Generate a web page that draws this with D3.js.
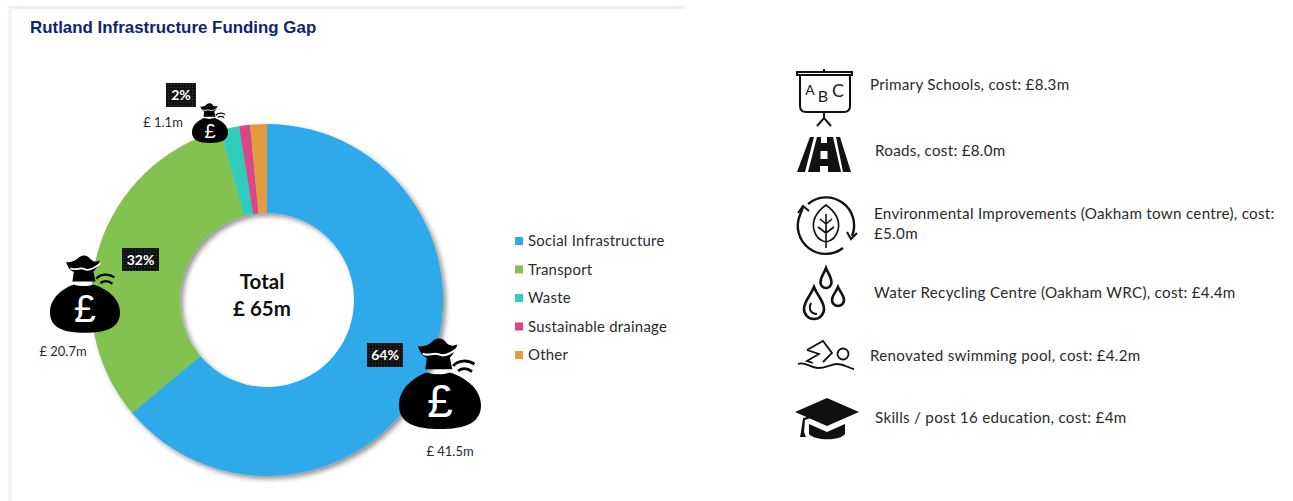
<!DOCTYPE html>
<html><head><meta charset="utf-8">
<script src="https://cdn.jsdelivr.net/npm/d3@7"></script>
<style>
html,body{margin:0;padding:0;background:#fff;overflow:hidden}
text{font-family:Lato,"Open Sans",sans-serif;fill:#2a2a2a}
</style></head><body>
<svg id="c" width="1293" height="501"></svg>
<script>
const chartTitle = "Rutland Infrastructure Funding Gap";
const categories = ["Social Infrastructure","Transport","Waste","Sustainable drainage","Other"];
const values = [41.5,20.7,1.1,0.65,1.0];
const colors = ["#2fa9ea","#82c251","#2dcdbb","#d8478a","#e39c3c"];
const centerLines = ["Total","£ 65m"];
const percentLabels = ["64%","32%","2%"];
const moneyLabels = ["£ 41.5m","£ 20.7m","£ 1.1m"];
const projects = [["Primary Schools, cost: £8.3m"],["Roads, cost: £8.0m"],
 ["Environmental Improvements (Oakham town centre), cost:","£5.0m"],
 ["Water Recycling Centre (Oakham WRC), cost: £4.4m"],["Renovated swimming pool, cost: £4.2m"],
 ["Skills / post 16 education, cost: £4m"]];

const svg = d3.select("#c");
const defs = svg.append("defs");
const f = defs.append("filter").attr("id","sh").attr("x","-10%").attr("y","-10%").attr("width","125%").attr("height","125%");
f.append("feDropShadow").attr("dx",3).attr("dy",3).attr("stdDeviation",2.5).attr("flood-color","#000").attr("flood-opacity",.42);
const pat = defs.append("pattern").attr("id","dots").attr("width",3).attr("height",3).attr("patternUnits","userSpaceOnUse");
pat.append("rect").attr("width",3).attr("height",3).attr("fill","#111");
pat.append("rect").attr("width",1).attr("height",1).attr("fill","#3a3a3a");

// panel frame
svg.append("rect").attr("x",8).attr("y",6).attr("width",677).attr("height",3).attr("fill","#eef3fb");
svg.append("rect").attr("x",8).attr("y",6).attr("width",4).attr("height",495).attr("fill","#eef3fb");

svg.append("text").attr("x",30).attr("y",33).text(chartTitle)
 .style("font-family","'Liberation Sans',Arial,sans-serif").style("font-weight",700).style("font-size","16.9px").style("fill","#10256b");

// donut
const cx=267, cy=300, R=176, r=87;
const pie=d3.pie().sort(null).value(d=>d);
const arc=d3.arc().innerRadius(r).outerRadius(R);
const g=svg.append("g").attr("transform",`translate(${cx},${cy})`).attr("filter","url(#sh)");
g.selectAll("path").data(pie(values)).join("path").attr("d",arc).attr("fill",(d,i)=>colors[i]);

const tc=svg.append("g");
tc.selectAll("text").data(centerLines).join("text").attr("x",262).attr("y",(d,i)=>289+i*27)
 .attr("text-anchor","middle").style("font-size","20.5px").style("font-weight",700).style("fill","#111").text(d=>d);

// money bags: x,y = top-left, s = scale (unit box 100 wide, 111 tall)
function bag(x,y,k){
 const b=svg.append("g").attr("transform",`translate(${x},${y}) scale(${k})`);
 b.append("path").attr("fill","#000").attr("d","M23,10 C30,11 36,9 42,3 C47,-1 54,0 58,6 C62,10 66,10 71,8 C70,14 66,20 62,24 L65,38 L32,38 L34,24 C28,22 25,16 23,10Z");
 b.append("path").attr("fill","#000").attr("d","M34,42 C20,47 0,60 0,82 C0,104 20,111 50,111 C80,111 100,104 100,82 C100,60 78,47 62,42 C54,45 42,45 34,42Z");
 b.append("path").attr("fill","none").attr("stroke","#000").attr("stroke-width",3.4).attr("d","M66,34 C72,27 84,26 92,32 M72,40 C78,36 84,37 89,41");
 b.append("path").attr("fill","none").attr("stroke","#fff").attr("stroke-width",2.6).attr("d","M29,19 C36,23 42,17 49,20 C54,23 62,20 72,12");
 b.append("text").attr("x",50).attr("y",96).attr("text-anchor","middle").style("font-size","56px").style("font-family","'Liberation Sans',sans-serif").style("fill","#fff").text("£");
}
bag(399,338,.82); bag(50,255,.70); bag(192,103,.36);

const pctPos=[[367,343,36,24],[122,248,37,23],[166,83,30,24]];
percentLabels.forEach((t,i)=>{const [x,y,w,h]=pctPos[i];
 svg.append("rect").attr("x",x).attr("y",y).attr("width",w).attr("height",h).attr("fill","url(#dots)");
 svg.append("text").attr("x",x+w/2).attr("y",y+h/2+5).attr("text-anchor","middle").style("font-size","14px").style("font-weight",700).style("fill","#fff").text(t);
});
const monPos=[[450,456],[63,356],[163,127]];
moneyLabels.forEach((t,i)=>svg.append("text").attr("x",monPos[i][0]).attr("y",monPos[i][1]).attr("text-anchor","middle").style("font-size","13px").text(t));

// legend
const ly=d3.scalePoint().domain(categories).range([241,355]);
const lg=svg.append("g");
lg.selectAll("rect").data(categories).join("rect").attr("x",515).attr("y",d=>ly(d)-4).attr("width",8).attr("height",8).attr("fill",(d,i)=>colors[i]);
lg.selectAll("text").data(categories).join("text").attr("x",528).attr("y",d=>ly(d)+5).style("font-size","14.9px").style("letter-spacing",".25px").text(d=>d);

// project list
const txtX=[870,875,874,874,870,875], txtY=[90,156,219,298,361,423];
projects.forEach((ls,i)=>ls.forEach((t,j)=>svg.append("text").attr("x",txtX[i]).attr("y",txtY[i]+j*19.5).style("font-size","15.2px").style("letter-spacing",".28px").text(t)));

// icons
const ic=svg.append("g").attr("fill","none").attr("stroke","#111").attr("stroke-width",2);
// school board
ic.append("path").attr("d","M800,75 V106 Q800,112 806,112 H844 Q850,112 850,106 V75 M824,112 V118 M817,126 L824,118 L831,126 M824,69 V72");
ic.append("rect").attr("x",797).attr("y",72).attr("width",55).attr("height",3).attr("fill","#fff");
[["A",810,95,14],["B",823,102,16],["C",838,97,18]].forEach(a=>svg.append("text").attr("x",a[1]).attr("y",a[2]).attr("text-anchor","middle").style("font-size",a[3]+"px").style("fill","#222").text(a[0]));
// road
const road=svg.append("g").attr("fill","#111");
road.append("path").attr("d","M810,137 H814 L805,172 H797Z");
road.append("path").attr("d","M836,137 H840 L851,172 H843Z");
road.append("path").attr("d","M817,137 H821 V143 H827 V137 H833 L841,172 H828 V166 H820 V172 H808Z");
road.append("rect").attr("x",820.5).attr("y",151).attr("width",7).attr("height",8).attr("fill","#fff");
// environment cycle
const e=svg.append("g").attr("fill","none").attr("stroke","#111").attr("stroke-width",2.4);
e.append("path").attr("d","M808,204 A28,28 0 0 1 852,236 M843,248 A28,28 0 0 1 800,215 L803,207");
e.append("path").attr("d","M798,213 L803,206 L809,211 M847,232 L851,239 L857,233").attr("stroke-width",2);
e.append("path").attr("d","M826,205 C815,213 812,222 814,230 C816,238 821,241 826,242 C831,241 836,238 838,230 C840,222 837,213 826,205Z M826,214 V248 M826,224 L820,219 M826,224 L832,219 M826,233 L818,227 M826,233 L834,227").attr("stroke-width",1.6);
// water drops
const w=svg.append("g").attr("fill","none").attr("stroke","#111").attr("stroke-width",2.6);
const drop=(x,t,b,hw)=>`M${x},${t} C${x+hw*.4},${t+(b-t)*.3} ${x+hw},${t+(b-t)*.45} ${x+hw},${b-hw} A${hw},${hw} 0 0 1 ${x-hw},${b-hw} C${x-hw},${t+(b-t)*.45} ${x-hw*.4},${t+(b-t)*.3} ${x},${t}Z`;
w.append("path").attr("d",drop(826,268,288,5.5));
w.append("path").attr("d",drop(814,287,319,10));
w.append("path").attr("d",drop(838,287,306,6));
w.append("path").attr("d","M811,303 C808,309 811,314 817,314").attr("stroke-width",2);
// swimmer
const sw=svg.append("g").attr("fill","none").attr("stroke","#111").attr("stroke-width",1.8);
sw.append("circle").attr("cx",843).attr("cy",354).attr("r",5.5);
sw.append("path").attr("d","M798,364 C805,361 810,368 818,368 C826,368 831,364 837,364 C845,364 848,368 854,369 M807,350 L823,341 L832,353 L823,362 M807,350 L819,354 L807,361 L813,363");
// graduation cap
const cap=svg.append("g").attr("fill","#111");
cap.append("path").attr("d","M827,398 L859,412 L827,426 L795,412Z");
cap.append("path").attr("d","M809,424 L827,432 L845,424 V434 C840,441 815,441 809,434Z");
cap.append("path").attr("d","M801,432 L803,418 L824,413 L805,420 L804,432 L806,437 H800Z");
</script></body></html>
